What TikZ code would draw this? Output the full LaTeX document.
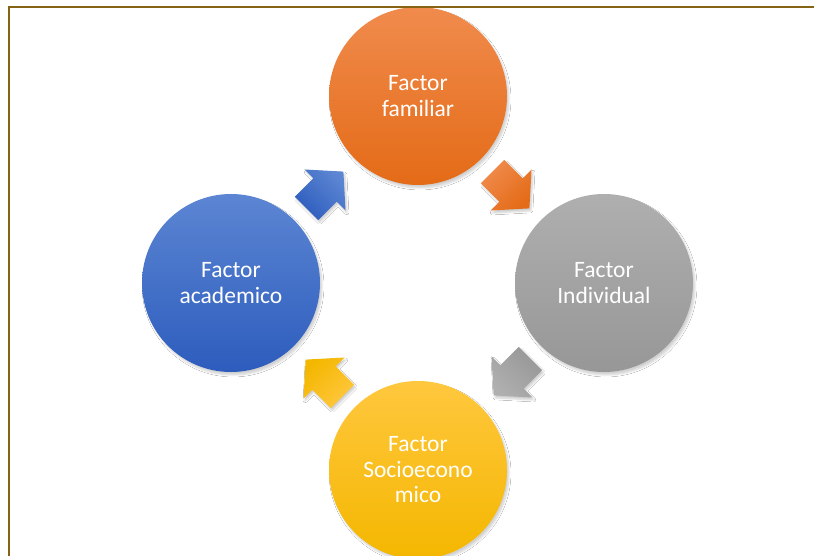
\documentclass[tikz,border=0pt]{standalone}
\usepackage{fontspec}
\setmainfont{Carlito}
\usetikzlibrary{shadows.blur}
\definecolor{frameol}{HTML}{846414}
\definecolor{orT}{HTML}{F08B4D}
\definecolor{orB}{HTML}{E46B17}
\definecolor{grT}{HTML}{AFAFAF}
\definecolor{grB}{HTML}{979797}
\definecolor{yeT}{HTML}{FFC73E}
\definecolor{yeB}{HTML}{F4B700}
\definecolor{blT}{HTML}{5C86D3}
\definecolor{blB}{HTML}{2D5CBD}
\tikzset{
  factor/.style={circle, minimum size=178pt, inner sep=0pt, text=white, align=center,
    font=\fontsize{23.5}{25.5}\selectfont,
    blur shadow={shadow xshift=2pt, shadow yshift=-3pt, shadow blur steps=6, shadow opacity=18}},
  cyc/.style={blur shadow={shadow xshift=1.5pt, shadow yshift=-2.5pt, shadow blur steps=5, shadow opacity=20}}
}
\newcommand{\cycarrow}[4]{%
  \begin{scope}[shift={#1}, rotate=#2]
    \path[cyc, top color=#3, bottom color=#4, shading angle=-#2]
      (-26,16.5) -- (0,16.5) -- (0,29) -- (26,0) -- (0,-29) -- (0,-16.5) -- (-26,-16.5) -- cycle;
  \end{scope}}
\begin{document}
\begin{tikzpicture}[x=1pt, y=-1pt]
  \useasboundingbox (0,0) rectangle (814,556);
  \fill[white] (0,0) rectangle (814,556);
  \node[factor, top color=orT, bottom color=orB] (fam) at (418,96) {Factor\\familiar};
  \node[factor, top color=grT, bottom color=grB] (ind) at (604,283) {Factor\\Individual};
  \node[factor, top color=yeT, bottom color=yeB] (soc) at (418,470) {Factor\\Socioecono\\mico};
  \node[factor, top color=blT, bottom color=blB] (aca) at (231,283) {Factor\\academico};
  \cycarrow{(511,190)}{-45}{orT}{orB}
  \cycarrow{(512,377)}{-135}{grT}{grB}
  \cycarrow{(324,378)}{135}{yeT}{yeB}
  \cycarrow{(325,190)}{45}{blT}{blB}
  \draw[frameol, line width=2.5pt] (9,556) -- (9,7.2) -- (814,7.2);
\end{tikzpicture}
\end{document}
